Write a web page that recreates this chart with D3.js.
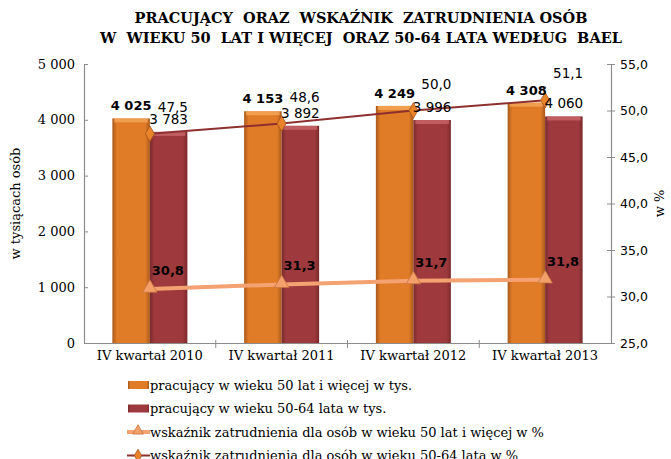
<!DOCTYPE html>
<html>
<head>
<meta charset="utf-8">
<script src="https://cdn.jsdelivr.net/npm/d3@7"></script>
<style>
  body { margin: 0; background: #fff; }
  svg text { fill: #000; }
</style>
</head>
<body>
<div class="chart-cnt"></div>
<script>
const categories = ["IV kwartał 2010", "IV kwartał 2011", "IV kwartał 2012", "IV kwartał 2013"];
const workers50plus = [4025, 4153, 4249, 4308];
const workers5064 = [3783, 3892, 3996, 4060];
const rate50plus = [30.8, 31.3, 31.7, 31.8];
const rate5064 = [47.5, 48.6, 50.0, 51.1];
const leftTicks = [0, 1000, 2000, 3000, 4000, 5000];
const rightTicks = [25, 30, 35, 40, 45, 50, 55];
const legendLabels = [
  "pracujący w wieku 50 lat i więcej w tys.",
  "pracujący w wieku 50-64 lata w tys.",
  "wskaźnik zatrudnienia dla osób w wieku 50 lat i więcej w %",
  "wskaźnik zatrudnienia dla osób w wieku 50-64 lata w %"
];

var width = 671, height = 459;
var serif = "'DejaVu Serif', 'Liberation Serif', serif",
    sans = "'DejaVu Sans', Verdana, sans-serif";

var pl = d3.formatLocale({decimal: ",", thousands: " ", grouping: [3], currency: ["", ""]});
var fmtInt = pl.format(",d"), fmtPct = pl.format(".1f");

var svg = d3.select(".chart-cnt").append("svg")
    .attr("width", width)
    .attr("height", height);

var defs = svg.append("defs");
function barGradient(id, edge, mid) {
    var g = defs.append("linearGradient").attr("id", id)
        .attr("x1", 0).attr("x2", 1).attr("y1", 0).attr("y2", 0);
    g.append("stop").attr("offset", "0%").attr("stop-color", edge);
    g.append("stop").attr("offset", "12%").attr("stop-color", mid);
    g.append("stop").attr("offset", "88%").attr("stop-color", mid);
    g.append("stop").attr("offset", "100%").attr("stop-color", edge);
}
barGradient("gOrange", "#a9591b", "#e07b27");
barGradient("gRed", "#7a2a2c", "#9e3a3d");

var pLeft = 84, pRight = 611, pTop = 64, pBottom = 343;

var x = d3.scaleBand().domain(categories).range([pLeft, pRight]);
var yL = d3.scaleLinear().domain([0, 5000]).range([pBottom, pTop]);
var yR = d3.scaleLinear().domain([25, 55]).range([pBottom, pTop]);
var barW = 37.5;

// title
svg.append("text")
    .attr("text-anchor", "middle")
    .attr("font-family", serif)
    .attr("font-weight", "bold")
    .attr("font-size", 14.5)
    .selectAll("tspan")
    .data(["PRACUJĄCY  ORAZ  WSKAŹNIK  ZATRUDNIENIA OSÓB", "W  WIEKU 50  LAT I WIĘCEJ  ORAZ 50-64 LATA WEDŁUG  BAEL"])
    .enter().append("tspan")
    .attr("x", 361)
    .attr("y", (d, i) => 23 + i * 20)
    .attr("xml:space", "preserve")
    .style("white-space", "pre")
    .text(d => d);

// bars
function drawBars(vals, fill, topFill, offset) {
    var g = svg.append("g");
    var b = g.selectAll("g").data(vals).enter().append("g");
    b.append("rect")
        .attr("x", (d, i) => x(categories[i]) + x.bandwidth() / 2 + offset)
        .attr("y", d => yL(d))
        .attr("width", barW)
        .attr("height", d => yL(0) - yL(d))
        .attr("fill", fill);
    b.append("rect")
        .attr("x", (d, i) => x(categories[i]) + x.bandwidth() / 2 + offset + 2)
        .attr("y", d => yL(d))
        .attr("width", barW - 4)
        .attr("height", 4)
        .attr("fill", topFill)
        .attr("opacity", 0.8);
}
drawBars(workers50plus, "url(#gOrange)", "#f6a85a", -barW);
drawBars(workers5064, "url(#gRed)", "#c8676a", 0);

// axes
function styleAxis(g) {
    g.selectAll("path, line").attr("stroke", "#8c8c8c");
    g.select(".domain").attr("stroke-width", 1.2);
}
var axL = svg.append("g").attr("transform", `translate(${pLeft},0)`)
    .call(d3.axisLeft(yL).tickValues(leftTicks).tickFormat(fmtInt).tickSizeInner(4).tickSizeOuter(0))
    .call(styleAxis);
axL.selectAll(".tick line").attr("x2", 4);
axL.selectAll("text").attr("font-family", serif).attr("font-size", 13).attr("fill", "#000").attr("x", -9);

var axR = svg.append("g").attr("transform", `translate(${pRight},0)`)
    .call(d3.axisRight(yR).tickValues(rightTicks).tickFormat(fmtPct).tickSizeInner(4).tickSizeOuter(0))
    .call(styleAxis);
axR.selectAll(".tick line").attr("x1", -4);
axR.selectAll("text").attr("font-family", sans).attr("font-size", 12.5).attr("fill", "#222").attr("x", 9);

var axB = svg.append("g").attr("transform", `translate(0,${pBottom})`)
    .call(d3.axisBottom(x).tickSize(0))
    .call(styleAxis);
axB.selectAll("text").attr("font-family", serif).attr("font-size", 13).attr("fill", "#000").attr("dy", "1.05em");
axB.selectAll(".sep").data(categories.slice(1)).enter().append("line")
    .attr("x1", d => x(d)).attr("x2", d => x(d))
    .attr("y1", -3).attr("y2", 5)
    .attr("stroke", "#8c8c8c");

// axis titles
svg.append("text")
    .attr("transform", `translate(20,${(pTop + pBottom) / 2}) rotate(-90)`)
    .attr("text-anchor", "middle")
    .attr("font-family", serif).attr("font-size", 13)
    .text("w tysiącach osób");
svg.append("text")
    .attr("transform", `translate(664,${(pTop + pBottom) / 2}) rotate(-90)`)
    .attr("text-anchor", "middle")
    .attr("font-family", serif).attr("font-size", 13)
    .text("w %");

// lines
var cx = (d, i) => x(categories[i]) + x.bandwidth() / 2;
var rateLine = d3.line().x(cx).y(d => yR(d));
svg.append("path").datum(rate50plus)
    .attr("d", rateLine)
    .attr("fill", "none")
    .attr("stroke", "#f4a271")
    .attr("stroke-width", 4);
svg.append("g").selectAll("path").data(rate50plus).enter().append("path")
    .attr("d", d3.symbol(d3.symbolTriangle, 90))
    .attr("transform", (d, i) => `translate(${cx(d, i)},${yR(d) - 1})`)
    .attr("fill", "#f4a06a")
    .attr("stroke", "#c9733e")
    .attr("stroke-width", 0.8);

svg.append("path").datum(rate5064)
    .attr("d", rateLine)
    .attr("fill", "none")
    .attr("stroke", "#8e3030")
    .attr("stroke-width", 2);
svg.append("g").selectAll("path").data(rate5064).enter().append("path")
    .attr("d", d3.symbol(d3.symbolDiamond, 70))
    .attr("transform", (d, i) => `translate(${cx(d, i)},${yR(d)})`)
    .attr("fill", "#e9842a")
    .attr("stroke", "#a4541a")
    .attr("stroke-width", 0.8);

// data labels
svg.append("g").selectAll("text").data(workers50plus).enter().append("text")
    .attr("x", (d, i) => cx(d, i) - barW / 2)
    .attr("y", d => yL(d) - 8)
    .attr("text-anchor", "middle")
    .attr("font-family", sans).attr("font-weight", "bold").attr("font-size", 13)
    .text(fmtInt);
svg.append("g").selectAll("text").data(workers5064).enter().append("text")
    .attr("x", (d, i) => cx(d, i) + barW / 2)
    .attr("y", d => yL(d) - 8)
    .attr("text-anchor", "middle")
    .attr("font-family", sans).attr("font-size", 13.5)
    .text(fmtInt);
svg.append("g").selectAll("text").data(rate5064).enter().append("text")
    .attr("x", (d, i) => cx(d, i) + 23)
    .attr("y", d => yR(d) - 22)
    .attr("text-anchor", "middle")
    .attr("font-family", sans).attr("font-size", 13.5)
    .text(fmtPct);
svg.append("g").selectAll("text").data(rate50plus).enter().append("text")
    .attr("x", (d, i) => cx(d, i) + 18)
    .attr("y", d => yR(d) - 14)
    .attr("text-anchor", "middle")
    .attr("font-family", sans).attr("font-weight", "bold").attr("font-size", 13)
    .text(fmtPct);

// legend
var leg = svg.append("g").attr("transform", "translate(128,385)");
var rows = leg.selectAll("g").data(legendLabels).enter().append("g")
    .attr("transform", (d, i) => `translate(0,${i * 23.5})`);
rows.append("text")
    .attr("x", 22).attr("dy", "0.35em")
    .attr("font-family", serif).attr("font-size", 13)
    .text(d => d);
rows.filter((d, i) => i === 0).append("rect")
    .attr("x", 0).attr("y", -4).attr("width", 21).attr("height", 8).attr("fill", "url(#gOrange)");
rows.filter((d, i) => i === 1).append("rect")
    .attr("x", 0).attr("y", -4).attr("width", 21).attr("height", 8).attr("fill", "url(#gRed)");
var r3 = rows.filter((d, i) => i === 2);
r3.append("line").attr("x1", -1).attr("x2", 22).attr("stroke", "#f4a271").attr("stroke-width", 4);
r3.append("path").attr("d", d3.symbol(d3.symbolTriangle, 50)).attr("transform", "translate(10,-1)")
    .attr("fill", "#f4a06a").attr("stroke", "#c9733e").attr("stroke-width", 0.8);
var r4 = rows.filter((d, i) => i === 3);
r4.append("line").attr("x1", -1).attr("x2", 22).attr("stroke", "#8e3030").attr("stroke-width", 2);
r4.append("path").attr("d", d3.symbol(d3.symbolDiamond, 45)).attr("transform", "translate(10,0)")
    .attr("fill", "#e9842a").attr("stroke", "#a4541a").attr("stroke-width", 0.8);
</script>
</body>
</html>
